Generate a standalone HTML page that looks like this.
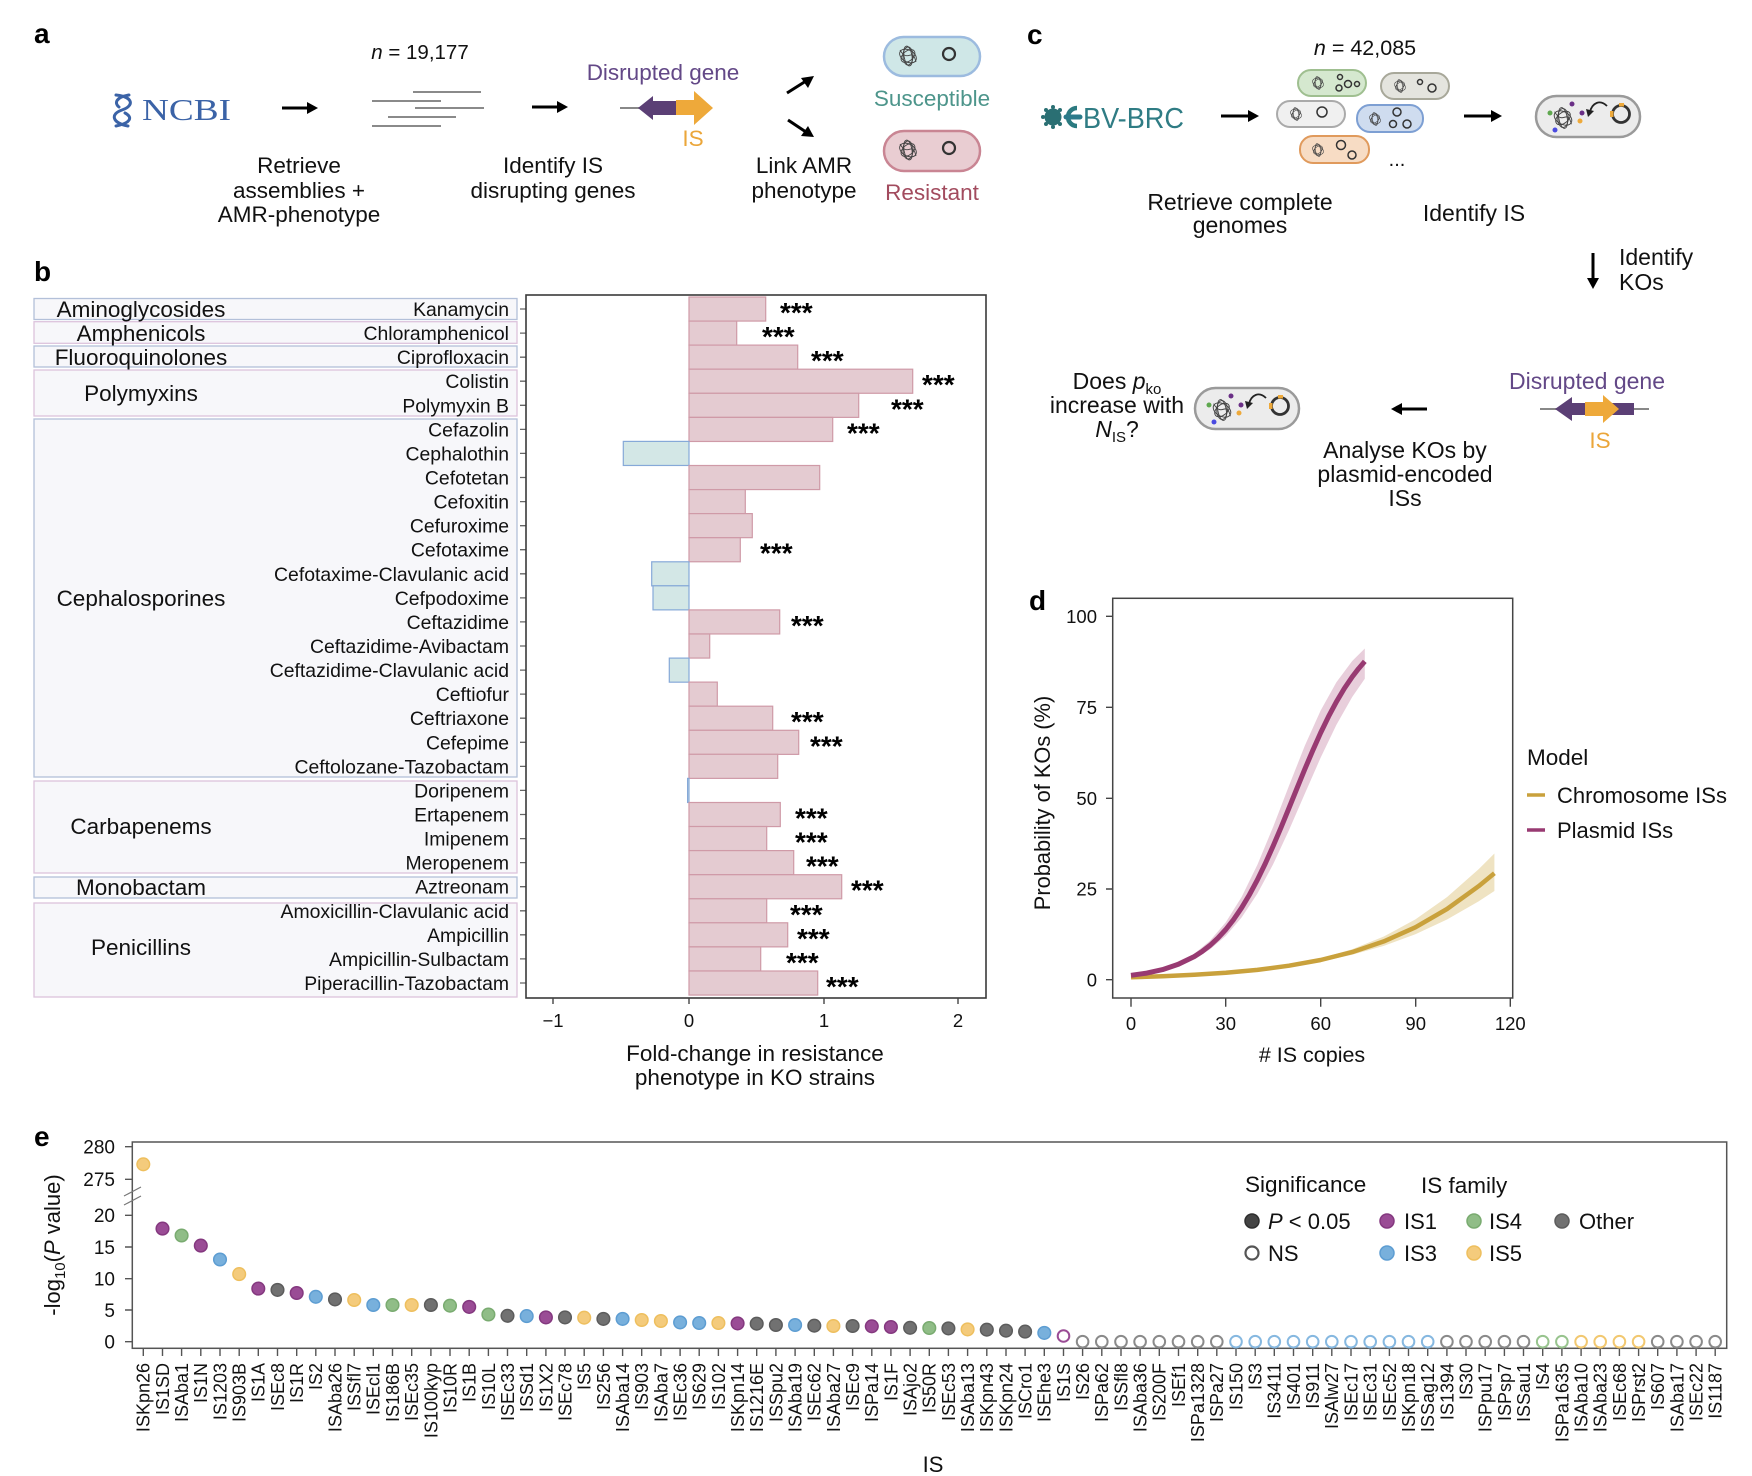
<!DOCTYPE html>
<html><head><meta charset="utf-8">
<style>
body{margin:0;background:#fff}
svg{display:block;font-family:"Liberation Sans",Arial,sans-serif;fill:#111}
.lb{font-weight:bold;font-size:28px;fill:#000}
.t22{font-size:22.5px}
.t23{font-size:23px}
.mid{text-anchor:middle}
.end{text-anchor:end}
.dr{font-size:19.4px;text-anchor:end}
.gr{font-size:22.5px;text-anchor:middle}
.st{font-size:28px;font-weight:bold;fill:#000}
.tk{font-size:18.5px}
.xl{font-size:18px;text-anchor:end}
.pos{fill:#e4cbd1;stroke:#cf9aa7;stroke-width:1.2}
.neg{fill:#d3e7e6;stroke:#86a9d8;stroke-width:1.2}
.gb{fill:#f7f7fa;stroke:#b3c0d9;stroke-width:1.3}
.gp{fill:#f7f7fa;stroke:#dcc3dc;stroke-width:1.3}
.p{fill:#9a4c95;stroke:#84387f;stroke-width:1.5}
.b{fill:#78b0dc;stroke:#5d9dd2;stroke-width:1.5}
.g{fill:#90bd87;stroke:#79ab70;stroke-width:1.5}
.y{fill:#f4cb7c;stroke:#eebf5e;stroke-width:1.5}
.o{fill:#717171;stroke:#5c5c5c;stroke-width:1.5}
.po{fill:#fff;stroke:#9a4c95;stroke-width:2}
.bo{fill:#fff;stroke:#86b8e0;stroke-width:2}
.go{fill:#fff;stroke:#98c48e;stroke-width:2}
.yo{fill:#fff;stroke:#f2c870;stroke-width:2}
.oo{fill:#fff;stroke:#8a8a8a;stroke-width:2}
.tg{fill:none;stroke:#444;stroke-width:0.9}
</style></head><body>
<svg width="1752" height="1476" viewBox="0 0 1752 1476" xmlns="http://www.w3.org/2000/svg">
<rect width="1752" height="1476" fill="#fff"/>

<!-- ===== Panel a ===== -->
<text class="lb" x="34" y="43">a</text>
<g fill="none" stroke="#3b63a7" stroke-width="3" stroke-linecap="round">
<path d="M116,95 C134,97 134,106 122,110 C110,114 112,123 128,126"/>
<path d="M129,95 C116,97 114,103 119,107"/>
<path d="M125,113 C133,117 131,123 116,126"/>
</g>
<text x="142" y="120" font-family="Liberation Serif,serif" font-size="31" fill="#3b63a7" textLength="89" lengthAdjust="spacingAndGlyphs">NCBI</text>
<g stroke="#000" stroke-width="3"><line x1="282" y1="108" x2="309" y2="108"/><line x1="532" y1="107" x2="559" y2="107"/>
<line x1="787" y1="93" x2="806" y2="81"/><line x1="788" y1="120" x2="806" y2="132"/></g>
<g fill="#000"><polygon points="318,108 307,102 307,114"/><polygon points="568,107 557,101 557,113"/>
<polygon points="814,76 801,78 808,88"/><polygon points="814,137 808,126 801,136"/></g>
<g stroke="#8a8a8a" stroke-width="2">
<line x1="413" y1="92" x2="481" y2="92"/><line x1="372" y1="101" x2="441" y2="101"/>
<line x1="415" y1="108" x2="484" y2="108"/><line x1="388" y1="117" x2="456" y2="117"/>
<line x1="372" y1="126" x2="441" y2="126"/></g>
<text x="420" y="59" class="mid" font-size="20.5"><tspan font-style="italic">n</tspan> = 19,177</text>
<text x="663" y="80" class="mid t22" style="fill:#634887">Disrupted gene</text>
<line x1="620" y1="108" x2="641" y2="108" stroke="#888" stroke-width="2"/>
<polygon points="638,108 653,96 653,101 676,101 676,115 653,115 653,120" fill="#5b3f75"/>
<polygon points="676,100 694,100 694,91 713,108 694,125 694,115 676,115" fill="#eea93a"/>
<text x="693" y="146" class="mid t22" style="fill:#eba63a">IS</text>
<rect x="884" y="37" width="96" height="39" rx="19.5" fill="#cfe7e7" stroke="#9cbbdf" stroke-width="2.5"/>
<g class="tg" transform="translate(908,56)"><ellipse rx="9" ry="6" transform="rotate(30)"/><ellipse rx="8" ry="5" transform="rotate(-40)"/><ellipse rx="5" ry="9"/><ellipse rx="10" ry="4" transform="rotate(80)"/><path d="M-8,-6 C0,8 4,-10 8,6"/></g>
<circle cx="949" cy="54" r="6" fill="none" stroke="#333" stroke-width="2.2"/>
<text x="932" y="106" class="mid t22" style="fill:#4d958b">Susceptible</text>
<rect x="884" y="131" width="96" height="40" rx="20" fill="#e9cdd2" stroke="#c98593" stroke-width="2.5"/>
<g class="tg" transform="translate(908,150)"><ellipse rx="9" ry="6" transform="rotate(30)"/><ellipse rx="8" ry="5" transform="rotate(-40)"/><ellipse rx="5" ry="9"/><ellipse rx="10" ry="4" transform="rotate(80)"/><path d="M-8,-6 C0,8 4,-10 8,6"/></g>
<circle cx="949" cy="148" r="6" fill="none" stroke="#333" stroke-width="2.2"/>
<text x="932" y="200" class="mid t22" style="fill:#a24b5e">Resistant</text>
<g class="t22 mid">
<text x="299" y="173">Retrieve</text><text x="299" y="198">assemblies +</text><text x="299" y="222">AMR-phenotype</text>
<text x="553" y="173">Identify IS</text><text x="553" y="198">disrupting genes</text>
<text x="804" y="173">Link AMR</text><text x="804" y="198">phenotype</text>
</g>

<!-- ===== Panel c ===== -->
<text class="lb" x="1027" y="44">c</text>
<text x="1365" y="55" class="mid" font-size="21.5"><tspan font-style="italic">n</tspan> = 42,085</text>
<g fill="#2a6f73"><circle cx="1053" cy="117" r="8.5"/><circle cx="1043" cy="117" r="2"/><circle cx="1046" cy="110" r="2"/><circle cx="1046" cy="124" r="2"/><circle cx="1053" cy="107" r="2"/><circle cx="1053" cy="127" r="2"/><circle cx="1060" cy="110" r="2"/><circle cx="1060" cy="124" r="2"/></g>
<path d="M1077,108 A9,9 0 1 0 1077,126" fill="none" stroke="#2b7a80" stroke-width="4.5"/>
<line x1="1066" y1="117" x2="1080" y2="117" stroke="#2b7a8a" stroke-width="5" stroke-linecap="round"/>
<text x="1083" y="128" font-size="29" style="fill:#2f7c84" textLength="101" lengthAdjust="spacingAndGlyphs">BV-BRC</text>
<g stroke="#000" stroke-width="3"><line x1="1221" y1="116" x2="1249" y2="116"/><line x1="1464" y1="116" x2="1492" y2="116"/>
<line x1="1593" y1="253" x2="1593" y2="279"/><line x1="1400" y1="409" x2="1427" y2="409"/></g>
<g fill="#000"><polygon points="1259,116 1248,110 1248,122"/><polygon points="1502,116 1491,110 1491,122"/>
<polygon points="1593,289 1587,278 1599,278"/><polygon points="1391,409 1402,403 1402,415"/></g>
<!-- cluster cells -->
<rect x="1298" y="70" width="68" height="26" rx="13" fill="#d5e8cf" stroke="#9fbf90" stroke-width="2"/>
<rect x="1381" y="73" width="68" height="26" rx="13" fill="#e4e4de" stroke="#a8a89a" stroke-width="2"/>
<rect x="1277" y="101" width="68" height="26" rx="13" fill="#f0f0f0" stroke="#aaa" stroke-width="2"/>
<rect x="1357" y="105" width="66" height="27" rx="13" fill="#cfdcef" stroke="#7d9fd3" stroke-width="2"/>
<rect x="1300" y="136" width="69" height="27" rx="13" fill="#f7dcc4" stroke="#e09a5c" stroke-width="2"/>
<g class="tg" transform="translate(1318,83) scale(0.65)"><ellipse rx="9" ry="6" transform="rotate(30)"/><ellipse rx="8" ry="5" transform="rotate(-40)"/><ellipse rx="5" ry="9"/><ellipse rx="10" ry="4" transform="rotate(80)"/></g>
<g class="tg" transform="translate(1400,86) scale(0.65)"><ellipse rx="9" ry="6" transform="rotate(30)"/><ellipse rx="8" ry="5" transform="rotate(-40)"/><ellipse rx="5" ry="9"/><ellipse rx="10" ry="4" transform="rotate(80)"/></g>
<g class="tg" transform="translate(1296,114) scale(0.65)"><ellipse rx="9" ry="6" transform="rotate(30)"/><ellipse rx="8" ry="5" transform="rotate(-40)"/><ellipse rx="5" ry="9"/><ellipse rx="10" ry="4" transform="rotate(80)"/></g>
<g class="tg" transform="translate(1375,119) scale(0.65)"><ellipse rx="9" ry="6" transform="rotate(30)"/><ellipse rx="8" ry="5" transform="rotate(-40)"/><ellipse rx="5" ry="9"/><ellipse rx="10" ry="4" transform="rotate(80)"/></g>
<g class="tg" transform="translate(1318,150) scale(0.65)"><ellipse rx="9" ry="6" transform="rotate(30)"/><ellipse rx="8" ry="5" transform="rotate(-40)"/><ellipse rx="5" ry="9"/><ellipse rx="10" ry="4" transform="rotate(80)"/></g>
<g fill="none" stroke="#333" stroke-width="1.5">
<circle cx="1340" cy="77" r="2.5"/><circle cx="1348" cy="84" r="3.5"/><circle cx="1339" cy="88" r="3"/><circle cx="1357" cy="84" r="2.5"/>
<circle cx="1420" cy="82" r="2.5"/><circle cx="1432" cy="88" r="4"/>
<circle cx="1322" cy="112" r="5"/>
<circle cx="1397" cy="112" r="4"/><circle cx="1393" cy="124" r="3.5"/><circle cx="1407" cy="124" r="4"/>
<circle cx="1341" cy="145" r="4.5"/><circle cx="1352" cy="155" r="4"/></g>
<text x="1397" y="166" class="mid" font-size="20">...</text>
<!-- big cell -->
<g>
<rect x="1536" y="96" width="104" height="41" rx="20.5" fill="#ececec" stroke="#9a9a9a" stroke-width="2.5"/>
<g class="tg" transform="translate(1563,118) scale(1.05)"><ellipse rx="9" ry="6" transform="rotate(30)"/><ellipse rx="8" ry="5" transform="rotate(-40)"/><ellipse rx="5" ry="9"/><ellipse rx="10" ry="4" transform="rotate(80)"/><path d="M-8,-6 C0,8 4,-10 8,6"/></g>
<circle cx="1572" cy="104" r="2.5" fill="#6a2f86"/><circle cx="1550" cy="113" r="2.5" fill="#5fa84f"/><circle cx="1555" cy="130" r="2.5" fill="#4a4ae0"/><circle cx="1580" cy="121" r="2.5" fill="#eea93a"/><circle cx="1582" cy="113" r="2.5" fill="#6a2f86"/>
<path d="M1607,106 C1600,99 1592,103 1590,112" fill="none" stroke="#222" stroke-width="1.8"/>
<polygon points="1588,117 1586,109 1594,111" fill="#222"/>
<circle cx="1621" cy="114" r="8.5" fill="none" stroke="#333" stroke-width="2.8"/>
<rect x="1610" y="111" width="3.5" height="6" fill="#eea93a"/><rect x="1619" y="103" width="5" height="3.5" fill="#eea93a"/>
</g>
<g transform="translate(-341,292)">
<rect x="1536" y="96" width="104" height="41" rx="20.5" fill="#ececec" stroke="#9a9a9a" stroke-width="2.5"/>
<g class="tg" transform="translate(1563,118) scale(1.05)"><ellipse rx="9" ry="6" transform="rotate(30)"/><ellipse rx="8" ry="5" transform="rotate(-40)"/><ellipse rx="5" ry="9"/><ellipse rx="10" ry="4" transform="rotate(80)"/><path d="M-8,-6 C0,8 4,-10 8,6"/></g>
<circle cx="1572" cy="104" r="2.5" fill="#6a2f86"/><circle cx="1550" cy="113" r="2.5" fill="#5fa84f"/><circle cx="1555" cy="130" r="2.5" fill="#4a4ae0"/><circle cx="1580" cy="121" r="2.5" fill="#eea93a"/><circle cx="1582" cy="113" r="2.5" fill="#6a2f86"/>
<path d="M1607,106 C1600,99 1592,103 1590,112" fill="none" stroke="#222" stroke-width="1.8"/>
<polygon points="1588,117 1586,109 1594,111" fill="#222"/>
<circle cx="1621" cy="114" r="8.5" fill="none" stroke="#333" stroke-width="2.8"/>
<rect x="1610" y="111" width="3.5" height="6" fill="#eea93a"/><rect x="1619" y="103" width="5" height="3.5" fill="#eea93a"/>
</g>
<g class="t23 mid">
<text x="1240" y="210">Retrieve complete</text><text x="1240" y="233">genomes</text>
<text x="1474" y="221">Identify IS</text>
<text x="1405" y="458">Analyse KOs by</text><text x="1405" y="482">plasmid-encoded</text><text x="1405" y="506">ISs</text>
<text x="1117" y="389">Does <tspan font-style="italic">p</tspan><tspan font-size="15" dy="5">ko</tspan></text>
<text x="1117" y="413">increase with</text>
<text x="1117" y="437"><tspan font-style="italic">N</tspan><tspan font-size="15" dy="5">IS</tspan><tspan dy="-5">?</tspan></text>
</g>
<text x="1619" y="265" class="t23">Identify</text><text x="1619" y="290" class="t23">KOs</text>
<text x="1587" y="389" class="mid t23" style="fill:#634887">Disrupted gene</text>
<line x1="1540" y1="409" x2="1649" y2="409" stroke="#888" stroke-width="2"/>
<polygon points="1555,409 1572,397 1572,403 1634,403 1634,415 1572,415 1572,421" fill="#5b3f75"/>
<polygon points="1585,402 1603,402 1603,395 1619,409 1603,423 1603,416 1585,416" fill="#eea93a"/>
<text x="1600" y="448" class="mid t22" style="fill:#eba63a">IS</text>

<!-- ===== Panel b ===== -->
<text class="lb" x="34" y="281">b</text>
<rect class="gb" x="34" y="298.5" width="483" height="21"/>
<rect class="gp" x="34" y="321.7" width="483" height="21.6"/>
<rect class="gb" x="34" y="346" width="483" height="21"/>
<rect class="gp" x="34" y="370" width="483" height="46"/>
<rect class="gb" x="34" y="419" width="483" height="358"/>
<rect class="gp" x="34" y="781" width="483" height="92"/>
<rect class="gb" x="34" y="877" width="483" height="21"/>
<rect class="gp" x="34" y="903" width="483" height="94"/>
<text class="gr" x="141" y="317">Aminoglycosides</text>
<text class="gr" x="141" y="341">Amphenicols</text>
<text class="gr" x="141" y="365">Fluoroquinolones</text>
<text class="gr" x="141" y="401">Polymyxins</text>
<text class="gr" x="141" y="606">Cephalosporines</text>
<text class="gr" x="141" y="834">Carbapenems</text>
<text class="gr" x="141" y="895">Monobactam</text>
<text class="gr" x="141" y="955">Penicillins</text>
<text class="dr" x="509" y="316">Kanamycin</text>
<text class="dr" x="509" y="340.1">Chloramphenicol</text>
<text class="dr" x="509" y="364.2">Ciprofloxacin</text>
<text class="dr" x="509" y="388.2">Colistin</text>
<text class="dr" x="509" y="412.3">Polymyxin B</text>
<text class="dr" x="509" y="436.4">Cefazolin</text>
<text class="dr" x="509" y="460.4">Cephalothin</text>
<text class="dr" x="509" y="484.5">Cefotetan</text>
<text class="dr" x="509" y="508.6">Cefoxitin</text>
<text class="dr" x="509" y="532.7">Cefuroxime</text>
<text class="dr" x="509" y="556.7">Cefotaxime</text>
<text class="dr" x="509" y="580.8">Cefotaxime-Clavulanic acid</text>
<text class="dr" x="509" y="604.9">Cefpodoxime</text>
<text class="dr" x="509" y="628.9">Ceftazidime</text>
<text class="dr" x="509" y="653">Ceftazidime-Avibactam</text>
<text class="dr" x="509" y="677.1">Ceftazidime-Clavulanic acid</text>
<text class="dr" x="509" y="701.1">Ceftiofur</text>
<text class="dr" x="509" y="725.2">Ceftriaxone</text>
<text class="dr" x="509" y="749.3">Cefepime</text>
<text class="dr" x="509" y="773.4">Ceftolozane-Tazobactam</text>
<text class="dr" x="509" y="797.4">Doripenem</text>
<text class="dr" x="509" y="821.5">Ertapenem</text>
<text class="dr" x="509" y="845.6">Imipenem</text>
<text class="dr" x="509" y="869.6">Meropenem</text>
<text class="dr" x="509" y="893.7">Aztreonam</text>
<text class="dr" x="509" y="917.8">Amoxicillin-Clavulanic acid</text>
<text class="dr" x="509" y="941.8">Ampicillin</text>
<text class="dr" x="509" y="965.9">Ampicillin-Sulbactam</text>
<text class="dr" x="509" y="990">Piperacillin-Tazobactam</text>
<path d="M520,309H526M520,333.1H526M520,357.2H526M520,381.2H526M520,405.3H526M520,429.4H526M520,453.4H526M520,477.5H526M520,501.6H526M520,525.7H526M520,549.7H526M520,573.8H526M520,597.9H526M520,621.9H526M520,646H526M520,670.1H526M520,694.1H526M520,718.2H526M520,742.3H526M520,766.4H526M520,790.4H526M520,814.5H526M520,838.6H526M520,862.6H526M520,886.7H526M520,910.8H526M520,934.8H526M520,958.9H526M520,983H526" stroke="#666" stroke-width="1.3"/>
<!-- bars -->
<rect class="pos" x="689" y="297" width="76.7" height="24.07"/>
<rect class="pos" x="689" y="321.1" width="47.7" height="24.07"/>
<rect class="pos" x="689" y="345.1" width="108.7" height="24.07"/>
<rect class="pos" x="689" y="369.2" width="223.7" height="24.07"/>
<rect class="pos" x="689" y="393.3" width="169.7" height="24.07"/>
<rect class="pos" x="689" y="417.4" width="143.7" height="24.07"/>
<rect class="neg" x="623.3" y="441.4" width="65.7" height="24.07"/>
<rect class="pos" x="689" y="465.5" width="130.7" height="24.07"/>
<rect class="pos" x="689" y="489.6" width="56.3" height="24.07"/>
<rect class="pos" x="689" y="513.6" width="63.3" height="24.07"/>
<rect class="pos" x="689" y="537.7" width="51.3" height="24.07"/>
<rect class="neg" x="651.7" y="561.8" width="37.3" height="24.07"/>
<rect class="neg" x="653" y="585.8" width="36" height="24.07"/>
<rect class="pos" x="689" y="609.9" width="90.7" height="24.07"/>
<rect class="pos" x="689" y="634" width="20.7" height="24.07"/>
<rect class="neg" x="669.3" y="658.1" width="19.7" height="24.07"/>
<rect class="pos" x="689" y="682.1" width="28.3" height="24.07"/>
<rect class="pos" x="689" y="706.2" width="83.7" height="24.07"/>
<rect class="pos" x="689" y="730.3" width="109.7" height="24.07"/>
<rect class="pos" x="689" y="754.3" width="88.7" height="24.07"/>
<rect class="neg" x="687.6" y="778.4" width="1.4" height="24.07"/>
<rect class="pos" x="689" y="802.5" width="91.3" height="24.07"/>
<rect class="pos" x="689" y="826.5" width="77.7" height="24.07"/>
<rect class="pos" x="689" y="850.6" width="104.7" height="24.07"/>
<rect class="pos" x="689" y="874.7" width="152.7" height="24.07"/>
<rect class="pos" x="689" y="898.8" width="77.7" height="24.07"/>
<rect class="pos" x="689" y="922.8" width="98.7" height="24.07"/>
<rect class="pos" x="689" y="946.9" width="71.7" height="24.07"/>
<rect class="pos" x="689" y="971" width="128.7" height="24.07"/>
<!-- stars -->
<text class="st" x="780" y="322">***</text>
<text class="st" x="762" y="346.1">***</text>
<text class="st" x="811" y="370.2">***</text>
<text class="st" x="922" y="394.2">***</text>
<text class="st" x="891" y="418.3">***</text>
<text class="st" x="847" y="442.4">***</text>
<text class="st" x="760" y="562.7">***</text>
<text class="st" x="791" y="634.9">***</text>
<text class="st" x="791" y="731.2">***</text>
<text class="st" x="810" y="755.3">***</text>
<text class="st" x="795" y="827.5">***</text>
<text class="st" x="795" y="851.6">***</text>
<text class="st" x="806" y="875.6">***</text>
<text class="st" x="851" y="899.7">***</text>
<text class="st" x="790" y="923.8">***</text>
<text class="st" x="797" y="947.8">***</text>
<text class="st" x="786" y="971.9">***</text>
<text class="st" x="826" y="996">***</text>
<rect x="526" y="295" width="460" height="703" fill="none" stroke="#3a3a3a" stroke-width="1.6"/>
<path d="M553,998V1004M689,998V1004M824,998V1004M958,998V1004" stroke="#444" stroke-width="1.4"/>
<g class="tk mid"><text x="553" y="1027">−1</text><text x="689" y="1027">0</text><text x="824" y="1027">1</text><text x="958" y="1027">2</text></g>
<text x="755" y="1061" class="mid t22">Fold-change in resistance</text>
<text x="755" y="1085" class="mid t22">phenotype in KO strains</text>

<!-- ===== Panel d ===== -->
<text class="lb" x="1029" y="610">d</text>
<polygon fill="#e8cedb" points="1131,975 1162.6,968.6 1194.2,953.8 1210,940.8 1225.8,922.3 1241.6,897 1257.4,864.8 1273.2,826.7 1289,785.7 1304.8,745.8 1320.6,710.6 1336.4,682.3 1352.2,661 1364.8,648.5 1364.8,678.8 1352.2,697 1336.4,724.9 1320.6,757.8 1304.8,793.7 1289,830.1 1273.2,864.1 1257.4,893.6 1241.6,917.5 1225.8,935.9 1210,949.4 1194.2,959.1 1162.6,970.5 1131,975.7"/>
<polygon fill="#efe3c2" points="1131,976.8 1225.8,972.3 1289,964.7 1320.6,958.3 1352.2,949.2 1383.8,936.5 1415.4,919.4 1447,897.1 1478.6,869.3 1494.4,853.5 1494.4,891 1478.6,901.4 1447,919.5 1415.4,934.2 1383.8,945.9 1352.2,954.8 1320.6,961.6 1289,966.7 1225.8,973.3 1131,977.8"/>
<polyline fill="none" stroke="#c9a13c" stroke-width="4.5" stroke-linejoin="round" points="1131,977.3 1162.6,976.3 1194.2,974.8 1225.8,972.8 1257.4,969.9 1289,965.7 1320.6,960 1352.2,952.1 1383.8,941.4 1415.4,927.3 1447,909 1478.6,886.2 1494.4,873.2"/>
<polyline fill="none" stroke="#983a72" stroke-width="5" stroke-linejoin="round" points="1131,975.3 1146.8,973.1 1162.6,969.6 1178.4,964.3 1194.2,956.6 1202.1,951.5 1210,945.4 1217.9,938.1 1225.8,929.5 1233.7,919.4 1241.6,907.8 1249.5,894.6 1257.4,879.8 1265.3,863.5 1273.2,845.9 1281.1,827.3 1289,808 1296.9,788.5 1304.8,769.2 1312.7,750.6 1320.6,732.9 1328.5,716.6 1336.4,701.8 1344.3,688.5 1352.2,676.9 1358.5,668.7 1364.8,661.4"/>
<rect x="1112.7" y="598.3" width="400" height="399.7" fill="none" stroke="#444" stroke-width="1.5"/>
<path d="M1106,616.3H1112.7M1106,707.3H1112.7M1106,798.3H1112.7M1106,889H1112.7M1106,979.7H1112.7M1131,998V1006.7M1225.7,998V1006.7M1320.7,998V1006.7M1415.7,998V1006.7M1510.3,998V1006.7" stroke="#444" stroke-width="1.4"/>
<g class="tk end"><text x="1097" y="623">100</text><text x="1097" y="714">75</text><text x="1097" y="805">50</text><text x="1097" y="895.6">25</text><text x="1097" y="986.3">0</text></g>
<g class="tk mid"><text x="1131" y="1030">0</text><text x="1225.7" y="1030">30</text><text x="1320.7" y="1030">60</text><text x="1415.7" y="1030">90</text><text x="1510.3" y="1030">120</text></g>
<text x="1312" y="1062" class="mid" font-size="21.5"># IS copies</text>
<text transform="translate(1050,803) rotate(-90)" class="mid" font-size="21.8">Probability of KOs (%)</text>
<text x="1527" y="765" font-size="22.5">Model</text>
<line x1="1527" y1="795" x2="1545" y2="795" stroke="#c9a13c" stroke-width="3.5"/>
<line x1="1527" y1="830" x2="1545" y2="830" stroke="#983a72" stroke-width="3.5"/>
<text x="1557" y="803" font-size="22">Chromosome ISs</text>
<text x="1557" y="838" font-size="22">Plasmid ISs</text>

<!-- ===== Panel e ===== -->
<text class="lb" x="34" y="1146">e</text>
<rect x="132.3" y="1142" width="1594.4" height="206.3" fill="none" stroke="#555" stroke-width="1.5"/>
<path d="M125,1146.7H132.3M125,1179.3H132.3M125,1215.3H132.3M125,1247H132.3M125,1278.7H132.3M125,1310H132.3M125,1341.7H132.3" stroke="#555" stroke-width="1.4"/>
<path d="M124,1196L141,1187M124,1205L141,1196" stroke="#777" stroke-width="1.2"/>
<g font-size="19" class="end"><text x="115" y="1153.5">280</text><text x="115" y="1186">275</text><text x="115" y="1222">20</text><text x="115" y="1253.8">15</text><text x="115" y="1285.5">10</text><text x="115" y="1316.8">5</text><text x="115" y="1348.5">0</text></g>
<text transform="translate(60,1245) rotate(-90)" class="mid" font-size="22">-log<tspan font-size="15" dy="5">10</tspan><tspan dy="-5">(</tspan><tspan font-style="italic">P</tspan> value)</text>
<path d="M143.3,1348V1356M162.5,1348V1356M181.6,1348V1356M200.8,1348V1356M220,1348V1356M239.2,1348V1356M258.3,1348V1356M277.5,1348V1356M296.7,1348V1356M315.8,1348V1356M335,1348V1356M354.2,1348V1356M373.3,1348V1356M392.5,1348V1356M411.7,1348V1356M430.9,1348V1356M450,1348V1356M469.2,1348V1356M488.4,1348V1356M507.5,1348V1356M526.7,1348V1356M545.9,1348V1356M565,1348V1356M584.2,1348V1356M603.4,1348V1356M622.6,1348V1356M641.7,1348V1356M660.9,1348V1356M680.1,1348V1356M699.2,1348V1356M718.4,1348V1356M737.6,1348V1356M756.7,1348V1356M775.9,1348V1356M795.1,1348V1356M814.3,1348V1356M833.4,1348V1356M852.6,1348V1356M871.8,1348V1356M890.9,1348V1356M910.1,1348V1356M929.3,1348V1356M948.4,1348V1356M967.6,1348V1356M986.8,1348V1356M1006,1348V1356M1025.1,1348V1356M1044.3,1348V1356M1063.5,1348V1356M1082.6,1348V1356M1101.8,1348V1356M1121,1348V1356M1140.1,1348V1356M1159.3,1348V1356M1178.5,1348V1356M1197.7,1348V1356M1216.8,1348V1356M1236,1348V1356M1255.2,1348V1356M1274.3,1348V1356M1293.5,1348V1356M1312.7,1348V1356M1331.8,1348V1356M1351,1348V1356M1370.2,1348V1356M1389.4,1348V1356M1408.5,1348V1356M1427.7,1348V1356M1446.9,1348V1356M1466,1348V1356M1485.2,1348V1356M1504.4,1348V1356M1523.5,1348V1356M1542.7,1348V1356M1561.9,1348V1356M1581.1,1348V1356M1600.2,1348V1356M1619.4,1348V1356M1638.6,1348V1356M1657.7,1348V1356M1676.9,1348V1356M1696.1,1348V1356M1715.2,1348V1356" stroke="#555" stroke-width="1.4"/>
<!-- points -->
<g>
<circle class="y" cx="143.3" cy="1164.3" r="6.3"/>
<circle class="p" cx="162.5" cy="1228.6" r="6.3"/>
<circle class="g" cx="181.6" cy="1235.5" r="6.3"/>
<circle class="p" cx="200.8" cy="1245.6" r="6.3"/>
<circle class="b" cx="220" cy="1259.5" r="6.3"/>
<circle class="y" cx="239.2" cy="1274.1" r="6.3"/>
<circle class="p" cx="258.3" cy="1288.6" r="6.3"/>
<circle class="o" cx="277.5" cy="1289.9" r="6.3"/>
<circle class="p" cx="296.7" cy="1293" r="6.3"/>
<circle class="b" cx="315.8" cy="1296.8" r="6.3"/>
<circle class="o" cx="335" cy="1299.4" r="6.3"/>
<circle class="y" cx="354.2" cy="1300" r="6.3"/>
<circle class="b" cx="373.3" cy="1305" r="6.3"/>
<circle class="g" cx="392.5" cy="1305" r="6.3"/>
<circle class="y" cx="411.7" cy="1305" r="6.3"/>
<circle class="o" cx="430.9" cy="1305" r="6.3"/>
<circle class="g" cx="450" cy="1305.7" r="6.3"/>
<circle class="p" cx="469.2" cy="1306.9" r="6.3"/>
<circle class="g" cx="488.4" cy="1314.5" r="6.3"/>
<circle class="o" cx="507.5" cy="1315.8" r="6.3"/>
<circle class="b" cx="526.7" cy="1316.1" r="6.3"/>
<circle class="p" cx="545.9" cy="1317.4" r="6.3"/>
<circle class="o" cx="565" cy="1317.4" r="6.3"/>
<circle class="y" cx="584.2" cy="1317.7" r="6.3"/>
<circle class="o" cx="603.4" cy="1318.9" r="6.3"/>
<circle class="b" cx="622.6" cy="1318.9" r="6.3"/>
<circle class="y" cx="641.7" cy="1320" r="6.3"/>
<circle class="y" cx="660.9" cy="1321" r="6.3"/>
<circle class="b" cx="680.1" cy="1322.4" r="6.3"/>
<circle class="b" cx="699.2" cy="1323" r="6.3"/>
<circle class="y" cx="718.4" cy="1323" r="6.3"/>
<circle class="p" cx="737.6" cy="1323.4" r="6.3"/>
<circle class="o" cx="756.7" cy="1323.7" r="6.3"/>
<circle class="o" cx="775.9" cy="1325" r="6.3"/>
<circle class="b" cx="795.1" cy="1325" r="6.3"/>
<circle class="o" cx="814.3" cy="1325.7" r="6.3"/>
<circle class="y" cx="833.4" cy="1326" r="6.3"/>
<circle class="o" cx="852.6" cy="1326" r="6.3"/>
<circle class="p" cx="871.8" cy="1326.3" r="6.3"/>
<circle class="p" cx="890.9" cy="1327" r="6.3"/>
<circle class="o" cx="910.1" cy="1327.8" r="6.3"/>
<circle class="g" cx="929.3" cy="1328" r="6.3"/>
<circle class="o" cx="948.4" cy="1328.4" r="6.3"/>
<circle class="y" cx="967.6" cy="1329.4" r="6.3"/>
<circle class="o" cx="986.8" cy="1329.7" r="6.3"/>
<circle class="o" cx="1006" cy="1330.7" r="6.3"/>
<circle class="o" cx="1025.1" cy="1331.6" r="6.3"/>
<circle class="b" cx="1044.3" cy="1332.9" r="6.3"/>
<circle class="po" cx="1063.5" cy="1336" r="5.8"/>
<circle class="oo" cx="1082.6" cy="1341.7" r="5.8"/>
<circle class="oo" cx="1101.8" cy="1341.7" r="5.8"/>
<circle class="oo" cx="1121" cy="1341.7" r="5.8"/>
<circle class="oo" cx="1140.1" cy="1341.7" r="5.8"/>
<circle class="oo" cx="1159.3" cy="1341.7" r="5.8"/>
<circle class="oo" cx="1178.5" cy="1341.7" r="5.8"/>
<circle class="oo" cx="1197.7" cy="1341.7" r="5.8"/>
<circle class="oo" cx="1216.8" cy="1341.7" r="5.8"/>
<circle class="bo" cx="1236" cy="1341.7" r="5.8"/>
<circle class="bo" cx="1255.2" cy="1341.7" r="5.8"/>
<circle class="bo" cx="1274.3" cy="1341.7" r="5.8"/>
<circle class="bo" cx="1293.5" cy="1341.7" r="5.8"/>
<circle class="bo" cx="1312.7" cy="1341.7" r="5.8"/>
<circle class="bo" cx="1331.8" cy="1341.7" r="5.8"/>
<circle class="bo" cx="1351" cy="1341.7" r="5.8"/>
<circle class="bo" cx="1370.2" cy="1341.7" r="5.8"/>
<circle class="bo" cx="1389.4" cy="1341.7" r="5.8"/>
<circle class="bo" cx="1408.5" cy="1341.7" r="5.8"/>
<circle class="bo" cx="1427.7" cy="1341.7" r="5.8"/>
<circle class="oo" cx="1446.9" cy="1341.7" r="5.8"/>
<circle class="oo" cx="1466" cy="1341.7" r="5.8"/>
<circle class="oo" cx="1485.2" cy="1341.7" r="5.8"/>
<circle class="oo" cx="1504.4" cy="1341.7" r="5.8"/>
<circle class="oo" cx="1523.5" cy="1341.7" r="5.8"/>
<circle class="go" cx="1542.7" cy="1341.7" r="5.8"/>
<circle class="go" cx="1561.9" cy="1341.7" r="5.8"/>
<circle class="yo" cx="1581.1" cy="1341.7" r="5.8"/>
<circle class="yo" cx="1600.2" cy="1341.7" r="5.8"/>
<circle class="yo" cx="1619.4" cy="1341.7" r="5.8"/>
<circle class="yo" cx="1638.6" cy="1341.7" r="5.8"/>
<circle class="oo" cx="1657.7" cy="1341.7" r="5.8"/>
<circle class="oo" cx="1676.9" cy="1341.7" r="5.8"/>
<circle class="oo" cx="1696.1" cy="1341.7" r="5.8"/>
<circle class="oo" cx="1715.2" cy="1341.7" r="5.8"/>
</g>
<!-- x labels -->
<g class="xl">
<text transform="translate(149.7,1363) rotate(-90)">ISKpn26</text>
<text transform="translate(168.9,1363) rotate(-90)">IS1SD</text>
<text transform="translate(188,1363) rotate(-90)">ISAba1</text>
<text transform="translate(207.2,1363) rotate(-90)">IS1N</text>
<text transform="translate(226.4,1363) rotate(-90)">IS1203</text>
<text transform="translate(245.6,1363) rotate(-90)">IS903B</text>
<text transform="translate(264.7,1363) rotate(-90)">IS1A</text>
<text transform="translate(283.9,1363) rotate(-90)">ISEc8</text>
<text transform="translate(303.1,1363) rotate(-90)">IS1R</text>
<text transform="translate(322.2,1363) rotate(-90)">IS2</text>
<text transform="translate(341.4,1363) rotate(-90)">ISAba26</text>
<text transform="translate(360.6,1363) rotate(-90)">ISSfl7</text>
<text transform="translate(379.7,1363) rotate(-90)">ISEcl1</text>
<text transform="translate(398.9,1363) rotate(-90)">IS186B</text>
<text transform="translate(418.1,1363) rotate(-90)">ISEc35</text>
<text transform="translate(437.3,1363) rotate(-90)">IS100kyp</text>
<text transform="translate(456.4,1363) rotate(-90)">IS10R</text>
<text transform="translate(475.6,1363) rotate(-90)">IS1B</text>
<text transform="translate(494.8,1363) rotate(-90)">IS10L</text>
<text transform="translate(513.9,1363) rotate(-90)">ISEc33</text>
<text transform="translate(533.1,1363) rotate(-90)">ISSd1</text>
<text transform="translate(552.3,1363) rotate(-90)">IS1X2</text>
<text transform="translate(571.4,1363) rotate(-90)">ISEc78</text>
<text transform="translate(590.6,1363) rotate(-90)">IS5</text>
<text transform="translate(609.8,1363) rotate(-90)">IS256</text>
<text transform="translate(629,1363) rotate(-90)">ISAba14</text>
<text transform="translate(648.1,1363) rotate(-90)">IS903</text>
<text transform="translate(667.3,1363) rotate(-90)">ISAba7</text>
<text transform="translate(686.5,1363) rotate(-90)">ISEc36</text>
<text transform="translate(705.6,1363) rotate(-90)">IS629</text>
<text transform="translate(724.8,1363) rotate(-90)">IS102</text>
<text transform="translate(744,1363) rotate(-90)">ISKpn14</text>
<text transform="translate(763.1,1363) rotate(-90)">IS1216E</text>
<text transform="translate(782.3,1363) rotate(-90)">ISSpu2</text>
<text transform="translate(801.5,1363) rotate(-90)">ISAba19</text>
<text transform="translate(820.7,1363) rotate(-90)">ISEc62</text>
<text transform="translate(839.8,1363) rotate(-90)">ISAba27</text>
<text transform="translate(859,1363) rotate(-90)">ISEc9</text>
<text transform="translate(878.2,1363) rotate(-90)">ISPa14</text>
<text transform="translate(897.3,1363) rotate(-90)">IS1F</text>
<text transform="translate(916.5,1363) rotate(-90)">ISAjo2</text>
<text transform="translate(935.7,1363) rotate(-90)">IS50R</text>
<text transform="translate(954.8,1363) rotate(-90)">ISEc53</text>
<text transform="translate(974,1363) rotate(-90)">ISAba13</text>
<text transform="translate(993.2,1363) rotate(-90)">ISKpn43</text>
<text transform="translate(1012.4,1363) rotate(-90)">ISKpn24</text>
<text transform="translate(1031.5,1363) rotate(-90)">ISCro1</text>
<text transform="translate(1050.7,1363) rotate(-90)">ISEhe3</text>
<text transform="translate(1069.9,1363) rotate(-90)">IS1S</text>
<text transform="translate(1089,1363) rotate(-90)">IS26</text>
<text transform="translate(1108.2,1363) rotate(-90)">ISPa62</text>
<text transform="translate(1127.4,1363) rotate(-90)">ISSfl8</text>
<text transform="translate(1146.5,1363) rotate(-90)">ISAba36</text>
<text transform="translate(1165.7,1363) rotate(-90)">IS200F</text>
<text transform="translate(1184.9,1363) rotate(-90)">ISEf1</text>
<text transform="translate(1204.1,1363) rotate(-90)">ISPa1328</text>
<text transform="translate(1223.2,1363) rotate(-90)">ISPa27</text>
<text transform="translate(1242.4,1363) rotate(-90)">IS150</text>
<text transform="translate(1261.6,1363) rotate(-90)">IS3</text>
<text transform="translate(1280.7,1363) rotate(-90)">IS3411</text>
<text transform="translate(1299.9,1363) rotate(-90)">IS401</text>
<text transform="translate(1319.1,1363) rotate(-90)">IS911</text>
<text transform="translate(1338.2,1363) rotate(-90)">ISAlw27</text>
<text transform="translate(1357.4,1363) rotate(-90)">ISEc17</text>
<text transform="translate(1376.6,1363) rotate(-90)">ISEc31</text>
<text transform="translate(1395.8,1363) rotate(-90)">ISEc52</text>
<text transform="translate(1414.9,1363) rotate(-90)">ISKpn18</text>
<text transform="translate(1434.1,1363) rotate(-90)">ISSag12</text>
<text transform="translate(1453.3,1363) rotate(-90)">IS1394</text>
<text transform="translate(1472.4,1363) rotate(-90)">IS30</text>
<text transform="translate(1491.6,1363) rotate(-90)">ISPpu17</text>
<text transform="translate(1510.8,1363) rotate(-90)">ISPsp7</text>
<text transform="translate(1529.9,1363) rotate(-90)">ISSau1</text>
<text transform="translate(1549.1,1363) rotate(-90)">IS4</text>
<text transform="translate(1568.3,1363) rotate(-90)">ISPa1635</text>
<text transform="translate(1587.5,1363) rotate(-90)">ISAba10</text>
<text transform="translate(1606.6,1363) rotate(-90)">ISAba23</text>
<text transform="translate(1625.8,1363) rotate(-90)">ISEc68</text>
<text transform="translate(1645,1363) rotate(-90)">ISPrst2</text>
<text transform="translate(1664.1,1363) rotate(-90)">IS607</text>
<text transform="translate(1683.3,1363) rotate(-90)">ISAba17</text>
<text transform="translate(1702.5,1363) rotate(-90)">ISEc22</text>
<text transform="translate(1721.6,1363) rotate(-90)">IS1187</text>
</g>
<text x="933" y="1472" class="mid" font-size="22">IS</text>
<!-- legend e -->
<text x="1245" y="1192" font-size="22.5">Significance</text>
<text x="1421" y="1193" font-size="22.5">IS family</text>
<circle cx="1252" cy="1221" r="7" fill="#444" stroke="#2e2e2e" stroke-width="1.5"/>
<circle cx="1252" cy="1253" r="6.5" fill="#fff" stroke="#555" stroke-width="2.2"/>
<circle class="p" cx="1387" cy="1221" r="7"/>
<circle class="b" cx="1387" cy="1253" r="7"/>
<circle class="g" cx="1474" cy="1221" r="7"/>
<circle class="y" cx="1474" cy="1253" r="7"/>
<circle class="o" cx="1562" cy="1221" r="7"/>
<g font-size="22">
<text x="1268" y="1229"><tspan font-style="italic">P</tspan> &lt; 0.05</text>
<text x="1268" y="1261">NS</text>
<text x="1404" y="1229">IS1</text><text x="1404" y="1261">IS3</text>
<text x="1489" y="1229">IS4</text><text x="1489" y="1261">IS5</text>
<text x="1579" y="1229">Other</text>
</g>
</svg>
</body></html>
